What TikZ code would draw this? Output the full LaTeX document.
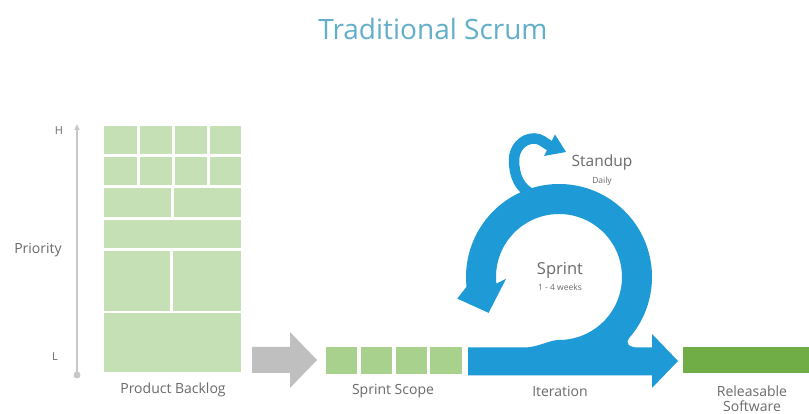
\documentclass[tikz,border=0pt]{standalone}
\usepackage{fontspec}
\setmainfont{Open Sans}
\usetikzlibrary{arrows.meta}
\definecolor{bkl}{HTML}{C5E0B4}
\definecolor{scopegreen}{HTML}{A9D18E}
\definecolor{relgreen}{HTML}{70AD47}
\definecolor{scrumblue}{HTML}{1E9AD6}
\definecolor{arrowgray}{HTML}{BFBFBF}
\definecolor{axisgray}{HTML}{C8C8C8}
\definecolor{titleblue}{HTML}{62AECB}
\definecolor{txtgray}{HTML}{6A6A6A}
\tikzset{
  lbl/.style={inner sep=0pt, text=txtgray, font=\fontsize{14}{16}\selectfont},
  tiny/.style={inner sep=0pt, text=txtgray, font=\fontsize{8.5}{10}\selectfont},
}
\begin{document}
\begin{tikzpicture}[x=1pt,y=1pt]
\useasboundingbox (0,0) rectangle (809,414);
\fill[white] (0,0) rectangle (809,414);

% title
\node[inner sep=0pt, text=titleblue, font=\fontsize{28}{32}\selectfont] (title) at (433,385) {Traditional Scrum};

% priority axis
\coordinate (plo) at (77,39);
\coordinate (phi) at (77,290);
\draw[axisgray, line width=2pt, -{Triangle[length=6pt,width=5pt]}] (plo) -- (phi);
\fill[axisgray] (plo) circle (3.5);
\node[lbl, font=\fontsize{11}{13}\selectfont] (H) at (59,283) {H};
\node[lbl, font=\fontsize{11}{13}\selectfont] (L) at (55,57) {L};
\node[lbl] (prio) at (38,164) {Priority};

% product backlog
\foreach \a/\b/\c/\d in {104/260/137/288, 140/260/172/288, 175/260/207/288, 210/260/241/288,
  104/229/137/257, 140/229/172/257, 175/229/207/257, 210/229/241/257,
  104/197/171/226, 174/197/241/226,
  104/166/241/194,
  104/103/170/163, 173/103/241/163,
  104/42/241/101}
  \fill[bkl] (\a,\b) rectangle (\c,\d);
\node[lbl] (pb) at (173,24) {Product Backlog};

% gray arrow
\fill[arrowgray] (252,41) -- (290,41) -- (290,26) -- (317,54) -- (290,82) -- (290,67) -- (252,67) -- cycle;

% sprint scope
\foreach \a/\c in {326/357, 361/392, 396/427, 430/462}
  \fill[scopegreen] (\a,40) rectangle (\c,67);
\node[lbl] (ss) at (393,23) {Sprint Scope};

% iteration arrow with sprint ring
\fill[scrumblue] (468,38.5) -- (652,38.5) -- (652,26) -- (678,53) -- (652,80) -- (652,66.5) -- (638,66.5)
  .. controls (628,66.5) and (625.2,71.5) .. ([shift={(559,137)}]-41:93)
  arc[start angle=-41, end angle=186, radius=93]
  -- ([shift={(559,137)}]192:104)
  -- ([shift={(559,137)}]207:79)
  -- ([shift={(559,137)}]182:53)
  -- ([shift={(559,137)}]186:63)
  arc[start angle=186, end angle=-90, radius=63]
  .. controls (549,74) and (538,66.5) .. (524,66.5)
  -- (468,66.5) -- cycle;
\node[lbl] (it) at (560,23) {Iteration};

% standup loop
\draw[scrumblue, line width=10.5pt] (534,219) to[out=158,in=-90] (514,254) to[out=90,in=180] (534,275.5) to[out=0,in=150] (550,268);
\fill[scrumblue] (555,279.5) -- (566,262) -- (544,258) -- cycle;

\node[lbl, font=\fontsize{15.5}{18}\selectfont] (standup) at (602,252) {Standup};
\node[tiny] (daily) at (602,233) {Daily};
\node[lbl, font=\fontsize{16.5}{19}\selectfont] (sprint) at (560,144) {Sprint};
\node[tiny] (weeks) at (560,127) {1 - 4 weeks};

% releasable software
\fill[relgreen] (683,41) rectangle (809,67);
\node[lbl] (rel) at (752,23) {Releasable};
\node[lbl] (soft) at (752,8) {Software};
\end{tikzpicture}
\end{document}
